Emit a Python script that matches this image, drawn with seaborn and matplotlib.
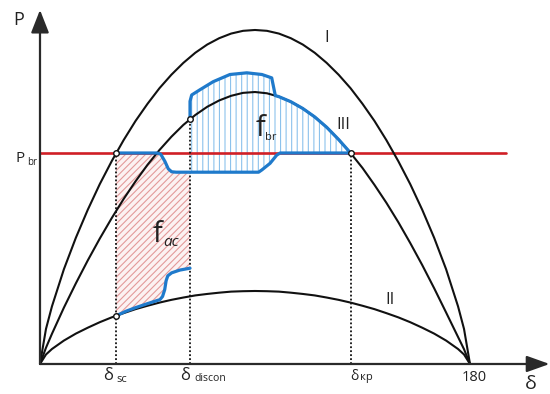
import matplotlib
matplotlib.use('Agg')
import matplotlib.pyplot as plt
import seaborn as sns

# power-angle curves, delta in degrees, P in units of P_br
delta = [0, 2.5, 5, 10, 15, 20, 25, 30, 35, 40, 45, 50, 55, 60, 65, 70, 75, 80, 85, 90,
         95, 100, 105, 110, 115, 120, 125, 130, 135, 140, 145, 150, 155, 160, 165, 170, 175, 177.5, 180]
p_I = [0, 0.166, 0.273, 0.449, 0.598, 0.731, 0.852, 0.961, 1.061, 1.152, 1.233, 1.307, 1.371, 1.427,
       1.475, 1.514, 1.544, 1.566, 1.579, 1.583, 1.579, 1.566, 1.544, 1.514, 1.475, 1.427, 1.371,
       1.307, 1.233, 1.152, 1.061, 0.961, 0.852, 0.731, 0.598, 0.449, 0.273, 0.166, 0]
p_II = [0, 0.045, 0.071, 0.111, 0.144, 0.172, 0.198, 0.221, 0.241, 0.260, 0.276, 0.291, 0.304, 0.315,
        0.325, 0.332, 0.338, 0.343, 0.345, 0.346, 0.345, 0.343, 0.338, 0.332, 0.325, 0.315, 0.304,
        0.291, 0.276, 0.260, 0.241, 0.221, 0.198, 0.172, 0.144, 0.111, 0.071, 0.045, 0]
p_III = [0, 0.077, 0.143, 0.267, 0.382, 0.491, 0.594, 0.691, 0.782, 0.866, 0.944, 1.014, 1.077, 1.133,
         1.180, 1.219, 1.249, 1.271, 1.285, 1.289, 1.283, 1.267, 1.243, 1.211, 1.171, 1.122, 1.064,
         1.000, 0.929, 0.849, 0.764, 0.672, 0.573, 0.469, 0.359, 0.244, 0.128, 0.070, 0]

p_br = 1.0
pbr_d = [0, 195]

d_sc, d_discon, d_kr = 31.8, 62.8, 130

# blue trajectory pieces
acc_d = [31.8, 36, 40, 45, 50.2, 51.3, 52.2, 52.8, 53.5, 55.1, 58.5, 62.8]
acc_p = [0.228, 0.250, 0.267, 0.286, 0.305, 0.320, 0.352, 0.395, 0.418, 0.432, 0.445, 0.454]

brk_d = [31.8, 49.0, 50.5, 52.3, 53.7, 55.1, 57.0, 62.8, 91.5, 92.9, 96.3, 99.1, 100.5, 130]
brk_p = [1.0, 1.0, 0.995, 0.96, 0.925, 0.911, 0.909, 0.909, 0.909, 0.92, 0.951, 0.99, 1.0, 1.0]

top_d = [62.8, 62.8, 63.5, 67.0, 72.5, 79.5, 86.6, 92.9, 97.0, 98.5, 100, 105, 110, 115, 120, 125, 130]
top_p = [1.159, 1.245, 1.275, 1.30, 1.338, 1.372, 1.380, 1.372, 1.356, 1.272, 1.267, 1.243, 1.211,
         1.171, 1.122, 1.064, 1.0]

# marked points
pt_d = [d_sc, d_discon, d_kr, d_sc]
pt_p = [1.0, 1.159, 1.0, 0.228]

sns.set_theme(style='white')
plt.rcParams['font.family'] = ['Open Sans', 'DejaVu Sans']
plt.rcParams['hatch.linewidth'] = 0.8

fig = plt.figure(figsize=(5.5, 3.94), dpi=100)
ax = fig.add_axes([0, 0, 1, 1])

black = '#111111'
blue = '#1f7acb'
red = '#d01f26'

# hatched areas
red_up = [(d, p) for d, p in zip(brk_d, brk_p) if d <= d_discon]
fac_x = acc_d + [d for d, p in reversed(red_up)]
fac_y = acc_p + [p for d, p in reversed(red_up)]
ax.fill(fac_x, fac_y, facecolor='#fcf2f2', edgecolor='#e39a9a', hatch='/////', linewidth=0, zorder=1)

blue_lo = [(d, p) for d, p in zip(brk_d, brk_p) if d >= d_discon]
fbr_x = [d for d, p in blue_lo] + top_d[::-1]
fbr_y = [p for d, p in blue_lo] + top_p[::-1]
ax.fill(fbr_x, fbr_y, facecolor='white', edgecolor='#8cc2ec', hatch='|||', linewidth=0, zorder=1)

# P_br line
sns.lineplot(x=pbr_d, y=[p_br, p_br], color=red, linewidth=1.9, ax=ax, zorder=2)

# power curves
for vals in (p_I, p_II, p_III):
    sns.lineplot(x=delta, y=vals, color=black, linewidth=1.5, ax=ax, zorder=3,
                 estimator=None, sort=False)

# drop lines
ax.vlines(pt_d[:3], 0, pt_p[:3], colors=black, linestyles=(0, (1, 1.2)), linewidth=1.3, zorder=2)

# trajectory
for xs, ys in ((acc_d, acc_p), (brk_d, brk_p), (top_d, top_p)):
    sns.lineplot(x=xs, y=ys, color=blue, linewidth=2.3, ax=ax, zorder=4,
                 estimator=None, sort=False)

sns.scatterplot(x=pt_d, y=pt_p, s=16, color='white', edgecolor=black, linewidth=1, ax=ax, zorder=5)

# axes with arrows
axis_col = '#2a2a2a'
ax.annotate('', xy=(213.3, 0), xytext=(0, 0),
            arrowprops=dict(arrowstyle='-|>,head_length=14,head_width=5', lw=1.6, color=axis_col,
                            shrinkA=0, shrinkB=0, mutation_scale=1), zorder=6)
ax.annotate('', xy=(0, 1.678), xytext=(0, 0),
            arrowprops=dict(arrowstyle='-|>,head_length=14,head_width=5.5', lw=1.6, color=axis_col,
                            shrinkA=0, shrinkB=0, mutation_scale=1), zorder=6)

tc = '#222222'
kw = dict(ha='center', va='center', color=tc)
ax.text(-8.8, 1.630, 'P', fontsize=13, **kw)
ax.text(-8.4, 0.976, 'P', fontsize=11, **kw)
ax.text(-3.4, 0.955, 'br', fontsize=7, **kw)

ax.text(120.1, 1.545, 'I', fontsize=12, **kw)
ax.text(127.0, 1.135, 'III', fontsize=12, **kw)
ax.text(146.5, 0.301, 'II', fontsize=12, **kw)

ax.text(92.1, 1.114, 'f', fontsize=21, **kw)
ax.text(96.4, 1.072, 'br', fontsize=8, **kw)
ax.text(49.0, 0.616, 'f', fontsize=21, **kw)
ax.text(55.0, 0.574, 'ac', fontsize=11, style='italic', **kw)

ax.text(28.5, -0.057, 'δ', fontsize=12, **kw)
ax.text(34.4, -0.072, 'sc', fontsize=8, **kw)
ax.text(60.9, -0.057, 'δ', fontsize=12, **kw)
ax.text(71.4, -0.071, 'discon', fontsize=7.5, **kw)
ax.text(131.4, -0.057, 'δ', fontsize=10, **kw)
ax.text(136.8, -0.066, 'кр', fontsize=8, **kw)
ax.text(181.7, -0.066, '180', fontsize=10.5, **kw)
ax.text(205.5, -0.095, 'δ', fontsize=14, **kw)

ax.set_xlim(-16.744, 213.49)
ax.set_ylim(-0.1422, 1.7251)
ax.axis('off')

fig.savefig('out.png', dpi=100)
